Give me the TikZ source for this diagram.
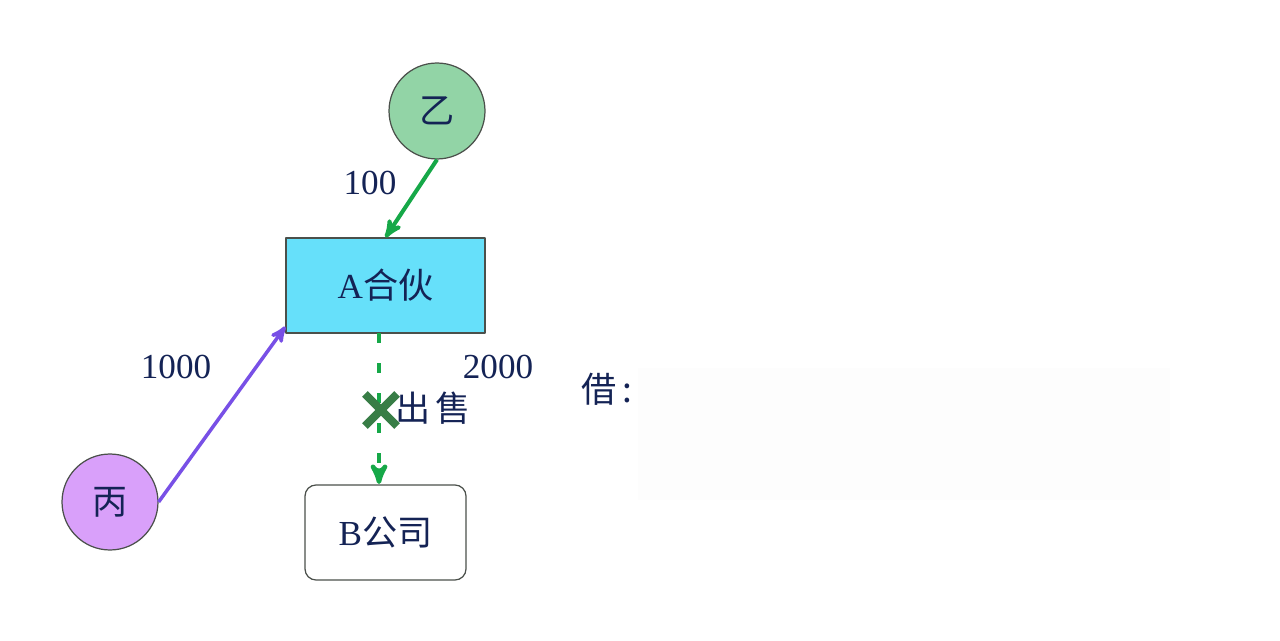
\documentclass[tikz,border=0pt]{standalone}
\usepackage{fontspec}
\setmainfont{Liberation Serif}
\newfontfamily\cjk{Noto Sans CJK SC}
\usetikzlibrary{arrows,shapes.misc}

\definecolor{ink}{RGB}{20,35,85}
\definecolor{yifill}{RGB}{146,212,166}
\definecolor{afill}{RGB}{102,224,250}
\definecolor{bingfill}{RGB}{217,160,250}
\definecolor{edgegray}{RGB}{75,80,75}
\definecolor{flowgreen}{RGB}{22,168,72}
\definecolor{flowpurple}{RGB}{120,80,230}
\definecolor{crossgreen}{RGB}{56,125,70}

\begin{document}
\begin{tikzpicture}[x=0.02cm,y=-0.02cm,>=stealth',line join=round,
	every node/.style={font=\fontsize{20}{24}\selectfont\cjk, text=ink}]
	\tikzstyle{party}=[circle, draw=edgegray, line width=0.7pt, minimum size=1.92cm, inner sep=0pt]
	\tikzstyle{firm}=[rectangle, draw=edgegray, line width=0.7pt, minimum height=1.9cm, inner sep=0pt]
	\tikzstyle{amount}=[font=\fontsize{20}{24}\selectfont\rmfamily]

	\useasboundingbox (0,0) rectangle (1280,641);
	\fill[black!0.7] (638,368) rectangle (1170,500);

	\node[party, fill=yifill]   (Yi)   at (437,111)   {乙};
	\node[firm, fill=afill, minimum width=3.98cm] (A) at (385.5,285.5) {{\rmfamily A}合伙};
	\node[party, fill=bingfill] (Bing) at (110,502)   {丙};
	\node[firm, fill=white, rounded corners=0.22cm, minimum width=3.22cm] (B) at (385.5,532.5) {{\rmfamily B}公司};

	\coordinate (sellTop) at (379,333);
	\coordinate (sellEnd) at (379,484);

	\node[amount] (n100)  at (370,183) {100};
	\node[amount] (n1000) at (176,367) {1000};
	\node[amount] (n2000) at (498,367) {2000};
	\node         (debit) at (607,389) {借\hspace{3pt}:};

	\path[->] (Yi.south) edge [flowgreen, line width=2.3pt] (A.north)
	          (Bing.east) edge [flowpurple, line width=2pt] ([yshift=0.14cm]A.south west)
	          (sellTop) edge [flowgreen, line width=2.6pt, dash pattern=on 5.7pt off 11.4pt] (sellEnd);

	\node[cross out, draw=crossgreen, line width=4.6pt, minimum size=0.48cm, inner sep=0pt] (X) at (381,410) {};
	\node (sale) at (433,408) {出\hspace{3pt}售};
\end{tikzpicture}
\end{document}
